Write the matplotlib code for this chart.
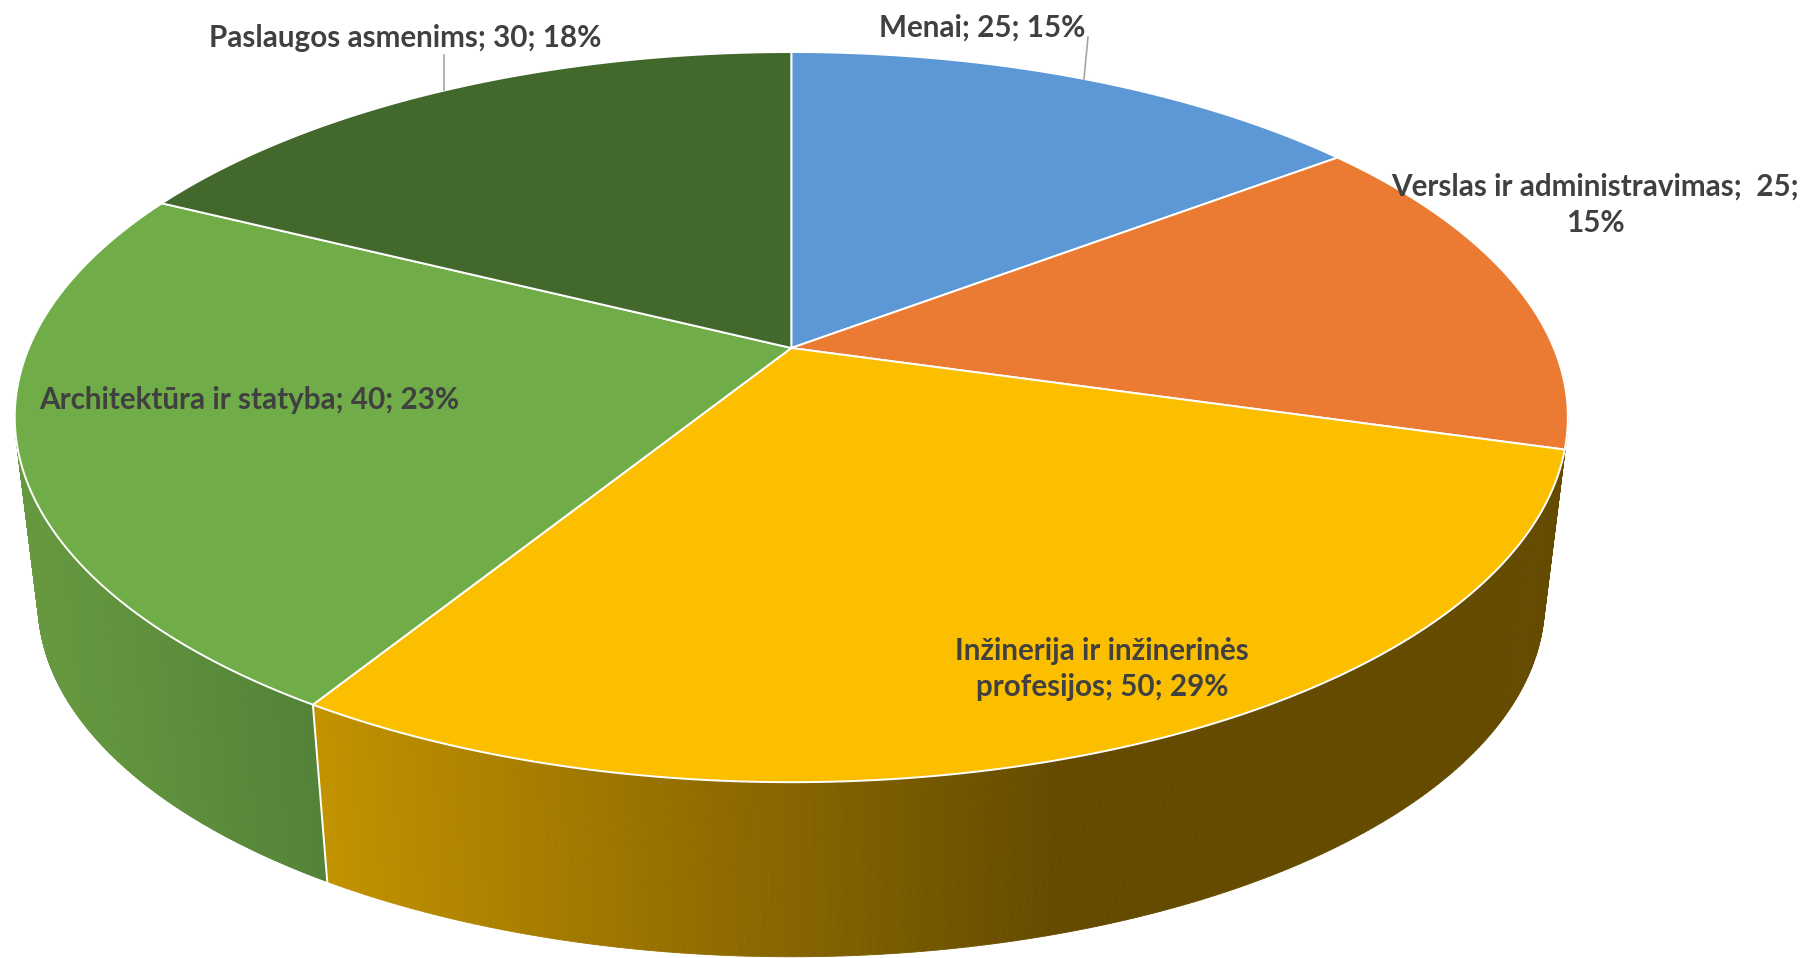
"""3D style pie chart of study fields, drawn with a perspective projection."""
import numpy as np
from matplotlib import pyplot as plt
from matplotlib.collections import PolyCollection
from matplotlib.colors import to_rgb

categories = [
    "Menai",
    "Verslas ir administravimas",
    "Inžinerija ir inžinerinės profesijos",
    "Architektūra ir statyba",
    "Paslaugos asmenims",
]
values = [25, 25, 50, 40, 30]
percents = [15, 15, 29, 23, 18]
top_colors = ["#5B98D5", "#EB7B32", "#FBBF00", "#70AC48", "#43682B"]

plt.rcParams["font.family"] = ["Lato", "DejaVu Sans"]

# projection of the pie disc, in pixels of the picture
CX, CY = 791.3, 348.0
RX, RY = 762.5, 352.0
TILT = 0.1893
LOW_SCALE = 0.97
LOW_CY = 535.6


def project_top(t):
    w = 1 + TILT * np.sin(t)
    return CX + RX * np.cos(t) / w, CY - RY * np.sin(t) / w


def project_low(t):
    w = 1 + TILT * np.sin(t)
    return (
        CX + LOW_SCALE * RX * np.cos(t) / w,
        LOW_CY - LOW_SCALE * RY * np.sin(t) / w,
    )


def wall_color(name, x):
    """Side shading runs left to right across the picture."""
    if name == "Architektūra ir statyba":
        left, right, x0, x1 = "#66993F", "#528238", 36, 328
    else:
        left, right, x0, x1 = "#C29200", "#654B00", 328, 1060
    f = np.clip((x - x0) / (x1 - x0), 0, 1)
    return tuple((1 - f) * a + f * b for a, b in zip(to_rgb(left), to_rgb(right)))


fig = plt.figure(figsize=(18.06, 9.58), dpi=100)
ax = fig.add_axes([0, 0, 1, 1])
ax.set_xlim(0, 1806)
ax.set_ylim(958, 0)
ax.axis("off")

fractions = np.cumsum([0] + values) / np.sum(values)
starts = np.pi / 2 - 2 * np.pi * fractions[:-1]
ends = np.pi / 2 - 2 * np.pi * fractions[1:]

# side walls first, only the front part of the rim can be seen
t_right = -np.arcsin(TILT)
t_left = -np.pi + np.arcsin(TILT)
for name, start, end in zip(categories, starts, ends):
    t0, t1 = min(start, t_right), max(end, t_left)
    if t0 <= t1 or name not in categories[2:4]:
        continue
    if name == categories[2]:
        t0 = t_right
    t = np.linspace(t0, t1, 220)
    xt, yt = project_top(t)
    xl, yl = project_low(t)
    quads, cols = [], []
    for i in range(len(t) - 1):
        quads.append(
            [
                (xt[i], yt[i]),
                (xt[i + 1], yt[i + 1]),
                (xl[i + 1], yl[i + 1]),
                (xl[i], yl[i]),
            ]
        )
        cols.append(wall_color(name, (xt[i] + xl[i]) / 2))
    ax.add_collection(
        PolyCollection(quads, facecolors=cols, edgecolors="face", linewidths=0.6)
    )

# edge between the two visible walls
t_edge = ends[2]
xa, ya = project_top(t_edge)
xb, yb = project_low(t_edge)
ax.plot([xa, xb], [ya, yb], color="white", lw=1.4, zorder=3)

# top face
for start, end, color in zip(starts, ends, top_colors):
    t = np.linspace(start, end, 200)
    x, y = project_top(t)
    ax.fill(
        np.r_[CX, x],
        np.r_[CY, y],
        facecolor=color,
        edgecolor="white",
        lw=1.4,
        joinstyle="round",
        zorder=4,
    )

# leader lines
ax.plot([444.5, 444.5], [55, 90], color="#A6A6A6", lw=1.2, zorder=5)
ax.plot([1088, 1084], [37, 79], color="#A6A6A6", lw=1.2, zorder=5)

text_style = dict(
    color="#404040",
    fontsize=21.3,
    fontweight="bold",
    ha="center",
    va="center",
    zorder=6,
)
labels = [f"{c}; {v}; {p}%" for c, v, p in zip(categories, values, percents)]

ax.text(982, 28, labels[0], **text_style)
ax.text(
    1595,
    205,
    f"{categories[1]};  {values[1]};\n{percents[1]}%",
    linespacing=1.385,
    **text_style,
)
ax.text(
    1102,
    669,
    f"Inžinerija ir inžinerinės\nprofesijos; {values[2]}; {percents[2]}%",
    linespacing=1.385,
    **text_style,
)
ax.text(249, 400, labels[3], **text_style)
ax.text(405, 38, labels[4], **text_style)

fig.savefig("out.png", dpi=100, facecolor="white")
